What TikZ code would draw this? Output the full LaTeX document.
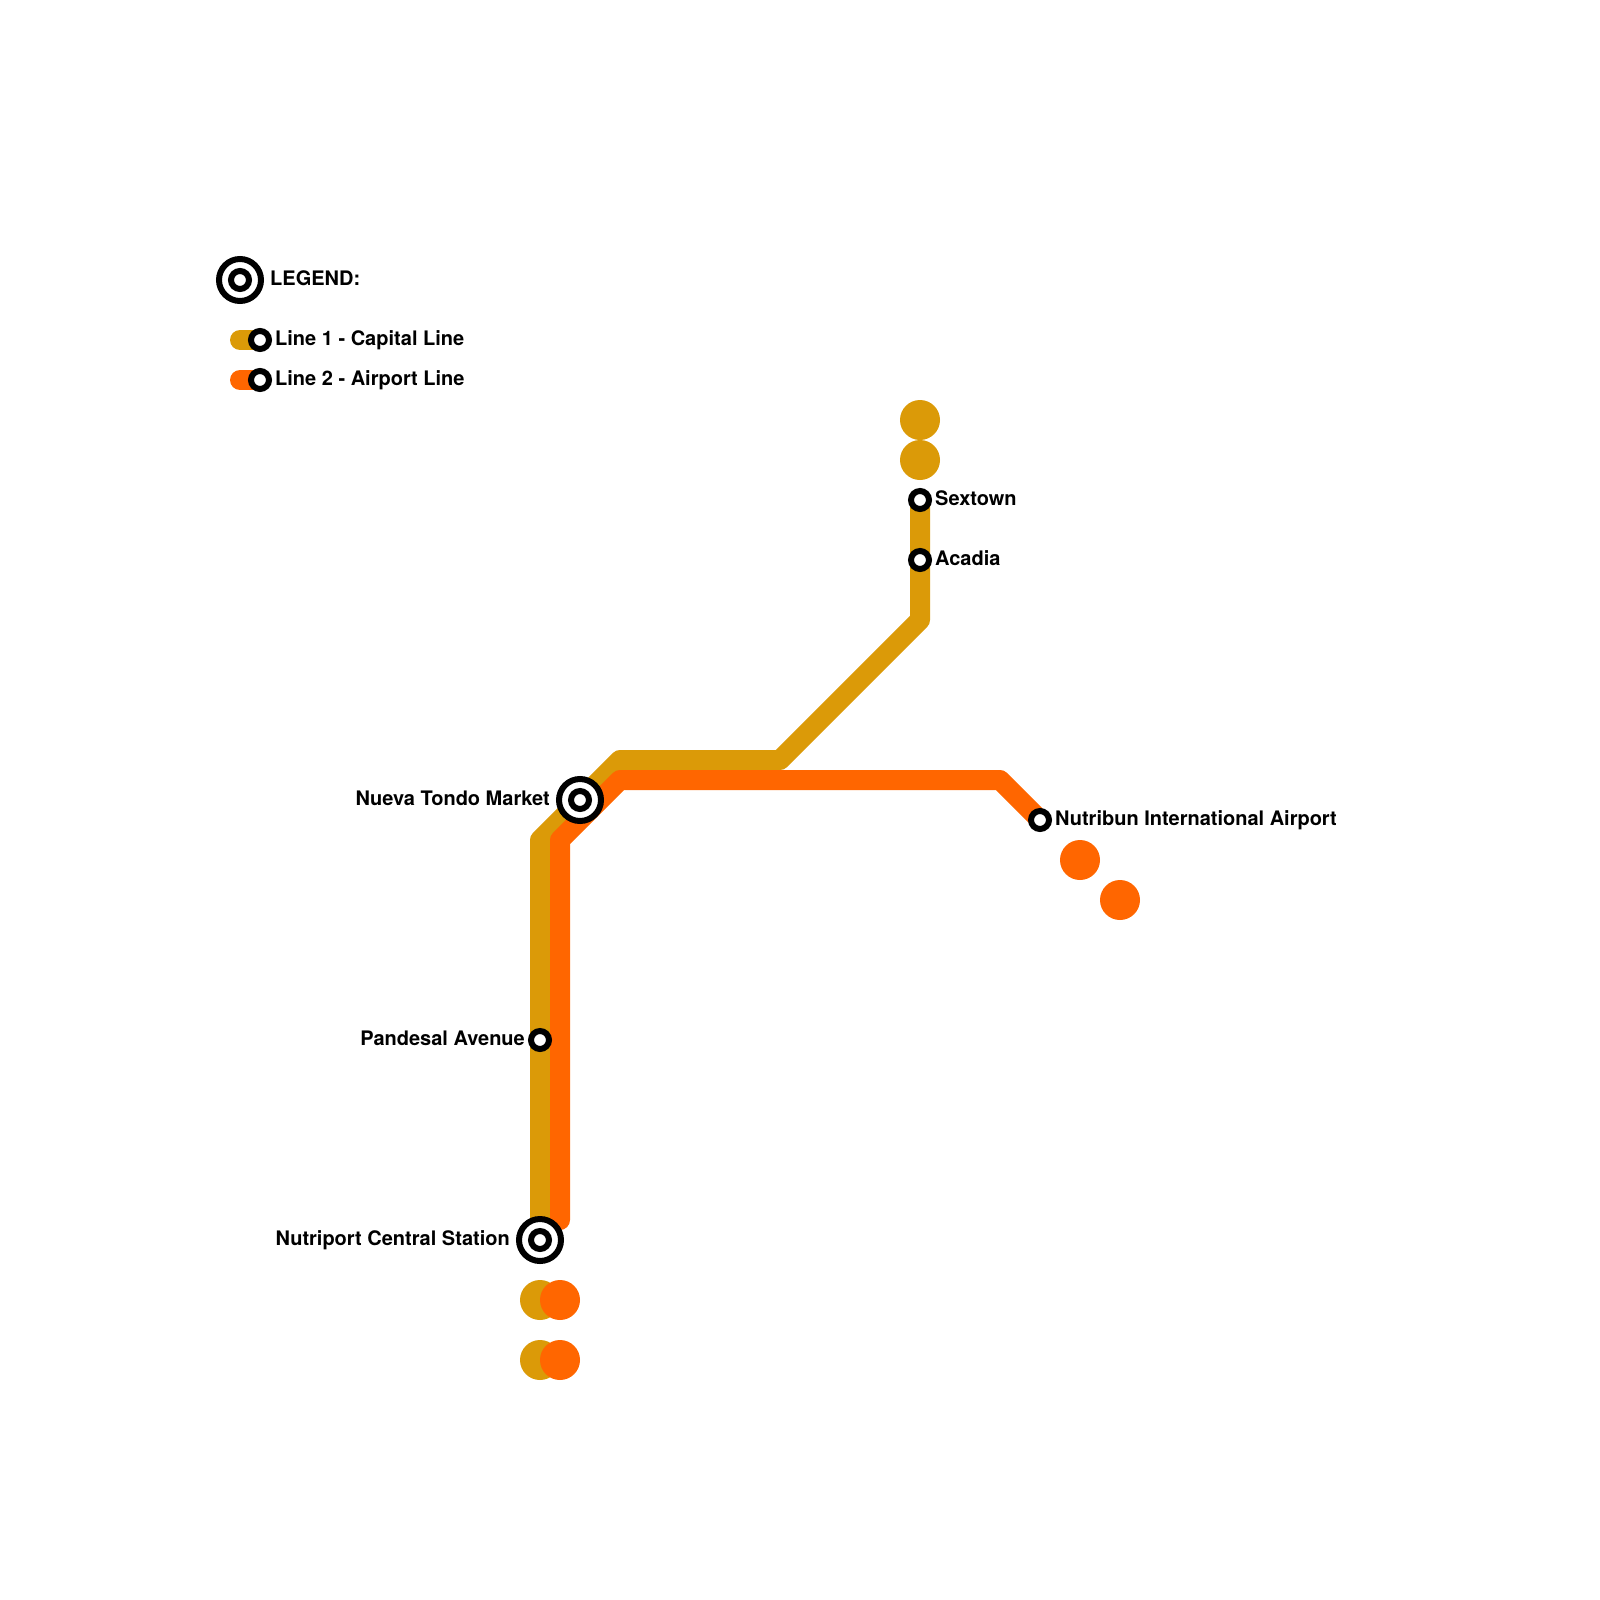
\documentclass[tikz,border=0pt]{standalone}
\usepackage{fontspec}
\setmainfont{TeX Gyre Heros}
\definecolor{lineone}{HTML}{DB9A08}
\definecolor{linetwo}{HTML}{FF6600}
\tikzset{
  x=1pt,y=-1pt,
  track/.style={line width=20pt,line join=round,line cap=round},
  terminus/.style={circle,inner sep=0pt,outer sep=0pt,minimum size=40pt},
  stationdot/.style={circle,draw=black,fill=white,line width=6pt,inner sep=0pt,outer sep=0pt,minimum size=18pt},
  hubouter/.style={circle,draw=black,fill=white,line width=6pt,inner sep=0pt,outer sep=0pt,minimum size=42pt},
  hubinner/.style={circle,draw=black,fill=white,line width=6pt,inner sep=0pt,outer sep=0pt,minimum size=18pt},
  lbl/.style={font=\fontsize{20}{22}\selectfont\bfseries,text=black,inner sep=0pt},
  lblr/.style={lbl,anchor=base west},
  lbll/.style={lbl,anchor=base east},
}
\begin{document}
\begin{tikzpicture}
\useasboundingbox (0,0) rectangle (1600,1600);
% coordinates
\coordinate (k1) at (240,340);
\coordinate (k2) at (240,380);
\coordinate (a1) at (540,840);
\coordinate (a2) at (620,760);
\coordinate (a3) at (780,760);
\coordinate (a4) at (920,620);
\coordinate (b0) at (560,1220);
\coordinate (b1) at (560,840);
\coordinate (b2) at (620,780);
\coordinate (b3) at (1000,780);
% termini
\node[terminus,fill=lineone] (g1) at (920,420) {};
\node[terminus,fill=lineone] (g2) at (920,460) {};
\node[terminus,fill=lineone] (g3) at (540,1300) {};
\node[terminus,fill=lineone] (g4) at (540,1360) {};
\node[terminus,fill=linetwo] (o1) at (560,1300) {};
\node[terminus,fill=linetwo] (o2) at (560,1360) {};
\node[terminus,fill=linetwo] (o3) at (1080,860) {};
\node[terminus,fill=linetwo] (o4) at (1120,900) {};
% station anchors
\coordinate (sNut) at (540,1240);
\coordinate (sPan) at (540,1040);
\coordinate (sNue) at (580,800);
\coordinate (sSex) at (920,500);
\coordinate (sAca) at (920,560);
\coordinate (sAir) at (1040,820);
\coordinate (sK1) at (260,340);
\coordinate (sK2) at (260,380);
% lines
\draw[track,lineone] (sNut) -- (a1) -- (a2) -- (a3) -- (a4) -- (sSex);
\draw[track,linetwo] (b0) -- (b1) -- (b2) -- (b3) -- (sAir);
\draw[track,lineone] (k1) -- (sK1);
\draw[track,linetwo] (k2) -- (sK2);
% stations
\node[stationdot] (nK1) at (sK1) {};
\node[stationdot] (nK2) at (sK2) {};
\node[stationdot] (nPan) at (sPan) {};
\node[stationdot] (nSex) at (sSex) {};
\node[stationdot] (nAca) at (sAca) {};
\node[stationdot] (nAir) at (sAir) {};
\node[hubouter] (hLeg) at (240,280) {};
\node[hubinner] (hLegI) at (240,280) {};
\node[hubouter] (hNue) at (sNue) {};
\node[hubinner] (hNueI) at (sNue) {};
\node[hubouter] (hNut) at (sNut) {};
\node[hubinner] (hNutI) at (sNut) {};
% labels
\node[lblr] (tLeg) at (270,285) {LEGEND:};
\node[lblr] (tK1) at (275,345) {Line 1 - Capital Line};
\node[lblr] (tK2) at (275,385) {Line 2 - Airport Line};
\node[lblr] (tSex) at (935,505) {Sextown};
\node[lblr] (tAca) at (935,565) {Acadia};
\node[lblr] (tAir) at (1055,825) {Nutribun International Airport};
\node[lbll] (tNue) at (550,805) {Nueva Tondo Market};
\node[lbll] (tPan) at (525,1045) {Pandesal Avenue};
\node[lbll] (tNut) at (510,1245) {Nutriport Central Station};
\end{tikzpicture}
\end{document}
